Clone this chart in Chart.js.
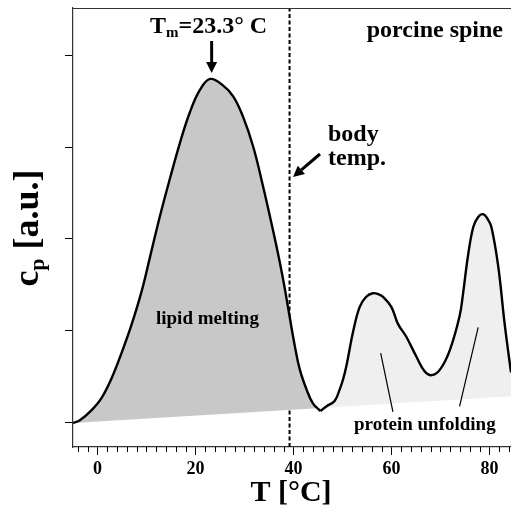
<!DOCTYPE html>
<html>
<head>
<meta charset="utf-8">
<script src="https://cdn.jsdelivr.net/npm/chart.js@4"></script>
<style>
  html, body { margin: 0; padding: 0; background: #fff; overflow: hidden; }
  #wrap { width: 511px; height: 514px; position: relative; }
  canvas { display: block; }
</style>
</head>
<body>
<div id="wrap"><canvas id="c" width="511" height="514" style="width:511px;height:514px"></canvas></div>
<script>
// ---- data ----
const lipidT  = [-5, -3.6, -1.2, 0.8, 2.9, 4.9, 6.9, 9.0, 10.7, 12.7, 14.8, 16.8, 18.8, 20.9, 23.0, 25.6, 27.7, 29.7, 31.8, 33.8, 35.8, 37.2, 38.2, 39.2, 40.3, 41.3, 42.7, 44.0, 45.5];
const lipidCp = [0, 0.03, 0.14, 0.27, 0.49, 0.76, 1.06, 1.43, 1.80, 2.24, 2.66, 3.04, 3.37, 3.62, 3.74, 3.67, 3.55, 3.33, 3.0, 2.57, 2.10, 1.75, 1.47, 1.16, 0.83, 0.58, 0.36, 0.21, 0.13];
const proteinT  = [45.5, 46.7, 48.4, 49.4, 50.1, 50.8, 52.2, 53.5, 54.8, 56.2, 57.3, 58.3, 60.0, 61.3, 63.0, 65.1, 66.8, 68.2, 69.9, 71.9, 73.9, 74.6, 75.6, 76.7, 77.7, 78.7, 79.6, 80.4, 81.8, 83.1, 84.4];
const proteinCp = [0.13, 0.18, 0.24, 0.36, 0.47, 0.62, 1.0, 1.26, 1.37, 1.41, 1.40, 1.37, 1.26, 1.08, 0.94, 0.72, 0.56, 0.52, 0.58, 0.79, 1.16, 1.40, 1.81, 2.13, 2.24, 2.27, 2.22, 2.13, 1.70, 1.08, 0.55];
const baselineT  = [-5, 84.4];
const baselineCp = [0, 0.29];
const bodyTemp = 39.2;
const tMelt = 23.3;
const xTickLabels = [0, 20, 40, 60, 80];
const yTickValues = [0, 1, 2, 3, 4];
const X_MIN = -5, X_MAX = 84.4, Y_MIN = -0.261, Y_MAX = 4.511;

const pts = (xs, ys) => xs.map((x, i) => ({ x: x, y: ys[i] }));
const SERIF = '"Liberation Serif", "DejaVu Serif", serif';

const decor = {
  id: 'decor',
  afterDatasetsDraw(chart) {
    const ctx = chart.ctx, a = chart.chartArea;
    const xs = chart.scales.x, ys = chart.scales.y;
    ctx.save();
    // top frame line
    ctx.strokeStyle = '#333'; ctx.lineWidth = 1.2;
    ctx.beginPath(); ctx.moveTo(a.left, a.top + 0.5); ctx.lineTo(a.right, a.top + 0.5); ctx.stroke();
    // minor x ticks
    ctx.strokeStyle = '#000'; ctx.lineWidth = 1;
    for (let v = -4; v <= X_MAX; v += 2) {
      if (v % 20 === 0) continue;
      const px = Math.round(xs.getPixelForValue(v)) + 0.5;
      ctx.beginPath(); ctx.moveTo(px, a.bottom); ctx.lineTo(px, a.bottom + 5); ctx.stroke();
    }
    // pointer lines for "protein unfolding"
    ctx.lineWidth = 1.2;
    const seg = (x1, y1, x2, y2) => {
      ctx.beginPath();
      ctx.moveTo(xs.getPixelForValue(x1), ys.getPixelForValue(y1));
      ctx.lineTo(xs.getPixelForValue(x2), ys.getPixelForValue(y2));
      ctx.stroke();
    };
    seg(57.8, 0.76, 60.3, 0.12);
    seg(77.7, 1.04, 73.9, 0.18);

    // arrows
    const arrow = (x1, y1, x2, y2) => {
      const ang = Math.atan2(y2 - y1, x2 - x1);
      const hl = 11, hw = 5.5;
      const bx = x2 - hl * Math.cos(ang), by = y2 - hl * Math.sin(ang);
      ctx.lineWidth = 3; ctx.strokeStyle = '#000'; ctx.fillStyle = '#000';
      ctx.beginPath(); ctx.moveTo(x1, y1); ctx.lineTo(bx, by); ctx.stroke();
      ctx.beginPath();
      ctx.moveTo(x2, y2);
      ctx.lineTo(bx + hw * Math.sin(ang), by - hw * Math.cos(ang));
      ctx.lineTo(bx - hw * Math.sin(ang), by + hw * Math.cos(ang));
      ctx.closePath(); ctx.fill();
    };
    const xm = xs.getPixelForValue(tMelt);
    arrow(xm, 41, xm, 73);
    arrow(320, 154, 293, 177);

    // texts
    ctx.fillStyle = '#000';
    ctx.textBaseline = 'alphabetic';
    ctx.textAlign = 'left';
    // T_m = 23.3° C
    let x = 150;
    ctx.font = 'bold 24px ' + SERIF;
    ctx.fillText('T', x, 33); x += ctx.measureText('T').width;
    ctx.font = 'bold 15px ' + SERIF;
    ctx.fillText('m', x, 37); x += ctx.measureText('m').width;
    ctx.font = 'bold 24px ' + SERIF;
    ctx.fillText('=23.3° C', x, 33);

    ctx.font = 'bold 24px ' + SERIF;
    ctx.textAlign = 'right';
    ctx.fillText('porcine spine', 503, 37);
    ctx.textAlign = 'left';
    ctx.font = 'bold 24px ' + SERIF;
    ctx.fillText('body', 328, 141);
    ctx.fillText('temp.', 328, 165);

    ctx.font = 'bold 19px ' + SERIF;
    ctx.fillText('lipid melting', 156, 324);
    ctx.fillText('protein unfolding', 354, 430);

    // x axis title
    ctx.font = 'bold 30px ' + SERIF;
    ctx.textAlign = 'center';
    ctx.fillText('T [°C]', 291, 501);

    // y axis title (rotated) c_p [a.u.]
    ctx.save();
    ctx.translate(38, 228);
    ctx.rotate(-Math.PI / 2);
    ctx.font = 'bold 36px ' + SERIF;
    const w1 = ctx.measureText('c').width;
    const w3 = ctx.measureText(' [a.u.]').width;
    ctx.font = 'bold 22px ' + SERIF;
    const w2 = ctx.measureText('p').width;
    let sx = -(w1 + w2 + w3) / 2;
    ctx.textAlign = 'left';
    ctx.font = 'bold 36px ' + SERIF;
    ctx.fillText('c', sx, 0); sx += w1;
    ctx.font = 'bold 22px ' + SERIF;
    ctx.fillText('p', sx, 6); sx += w2;
    ctx.font = 'bold 36px ' + SERIF;
    ctx.fillText(' [a.u.]', sx, 0);
    ctx.restore();

    ctx.restore();
  }
};

new Chart(document.getElementById('c'), {
  type: 'line',
  data: {
    datasets: [
      { label: 'baseline', data: pts(baselineT, baselineCp), borderWidth: 0, borderColor: 'rgba(0,0,0,0)', pointRadius: 0, fill: false, tension: 0 },
      { label: 'lipid', data: pts(lipidT, lipidCp), borderColor: '#000', borderWidth: 2.4, pointRadius: 0,
        backgroundColor: '#c8c8c8', fill: 0, tension: 0.4 },
      { label: 'protein', data: pts(proteinT, proteinCp), borderColor: '#000', borderWidth: 2.4, pointRadius: 0,
        backgroundColor: '#efefef', fill: 0, tension: 0.4 },
      { label: 'body', data: [{ x: bodyTemp, y: Y_MIN }, { x: bodyTemp, y: Y_MAX }], borderColor: '#000', borderWidth: 2,
        borderDash: [4, 2.5], pointRadius: 0, fill: false }
    ]
  },
  options: {
    responsive: false,
    animation: false,
    devicePixelRatio: 1,
    layout: { padding: { top: 8, left: 0, right: 0, bottom: 0 } },
    plugins: { legend: { display: false }, tooltip: { enabled: false }, filler: { propagate: false } },
    scales: {
      x: {
        type: 'linear', min: X_MIN, max: X_MAX,
        afterBuildTicks: s => { s.ticks = xTickLabels.map(v => ({ value: v })); },
        afterFit: s => { s.height = 67; },
        border: { display: true, color: '#333', width: 1.2 },
        grid: { drawOnChartArea: false, drawTicks: true, tickLength: 8, color: '#000', tickWidth: 1 },
        ticks: { color: '#000', padding: 4, maxRotation: 0, autoSkip: false,
                 font: { family: SERIF, size: 18, weight: 'bold' } }
      },
      y: {
        type: 'linear', min: Y_MIN, max: Y_MAX,
        afterBuildTicks: s => { s.ticks = yTickValues.map(v => ({ value: v })); },
        afterFit: s => { s.width = 73; },
        border: { display: true, color: '#333', width: 1.2 },
        grid: { drawOnChartArea: false, drawTicks: true, tickLength: 8, color: '#000', tickWidth: 1 },
        ticks: { display: false }
      }
    }
  },
  plugins: [decor]
});
</script>
</body>
</html>
